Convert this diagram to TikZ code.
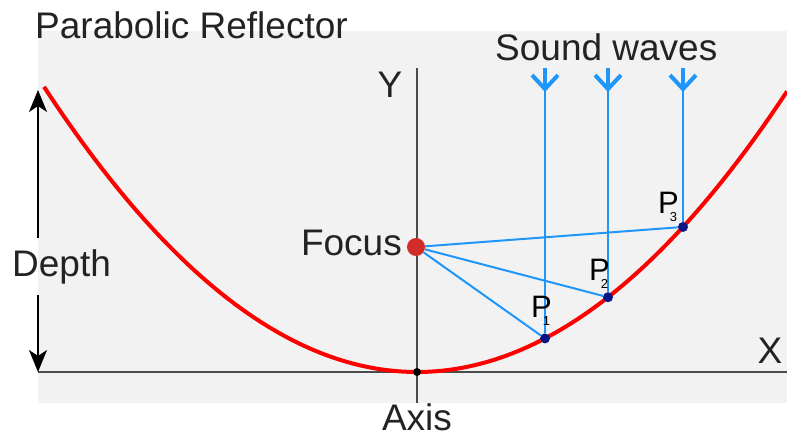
\documentclass[tikz,border=0pt]{standalone}
\usepackage{fontspec}
\setmainfont{Liberation Sans}
\usetikzlibrary{arrows.meta,decorations.markings,calc}

\definecolor{wavecol}{RGB}{30,150,250}
\definecolor{dotcol}{RGB}{10,20,130}
\definecolor{focuscol}{RGB}{210,45,40}
\definecolor{axiscol}{RGB}{75,75,75}
\definecolor{txtcol}{RGB}{35,35,35}
\definecolor{bgcol}{RGB}{242,242,242}

% point label with the small index tucked under the P
\newcommand{\Plab}[1]{P\kern-9pt\raisebox{-8pt}{\fontsize{13}{13}\selectfont #1}}

\begin{document}
\begin{tikzpicture}[x=1pt,y=-1pt,
  txt/.style={text=txtcol,font=\fontsize{37}{40}\selectfont,inner sep=0pt},
  plab/.style={text=black,font=\fontsize{31}{34}\selectfont,inner sep=0pt,anchor=base west},
  ptdot/.style={circle,fill=dotcol,minimum size=10pt,inner sep=0pt},
  ray/.style={wavecol,line width=2pt},
  incoming/.style={wavecol,line width=2.2pt},
  barb/.style={wavecol,line width=4pt,-{Straight Barb[length=14pt,width=26pt]}},
  axisline/.style={axiscol,line width=2pt},
  deptharrow/.style={black,line width=2pt,-{Stealth[length=22pt,width=18pt,inset=6pt]}}]

  \useasboundingbox (0,0) rectangle (787,436);

  % -- BACKGROUND & AXES ---------------------------------------------
  \fill[bgcol] (38,31) rectangle (787,403);
  \coordinate (xl) at (38,372);  \coordinate (xr) at (787,372);
  \coordinate (yt) at (417,68);  \coordinate (yb) at (417,403);
  \draw[axisline] (xl) -- (xr);
  \draw[axisline] (yt) -- (yb);

  % -- REFLECTOR -----------------------------------------------------
  \draw[red,line width=4pt] plot[domain=44:787,samples=90] (\x,{372-20.5*((\x-417)/100)^2});

  \node[circle,fill=black,minimum size=8pt,inner sep=0pt] (vertex) at (417,372) {};
  \node[circle,fill=focuscol,minimum size=18pt,inner sep=0pt] (focus) at (416,247) {};

  \node[ptdot] (p1) at (545,{372-20.5*1.28^2}) {};
  \node[ptdot] (p2) at (608,{372-20.5*1.91^2}) {};
  \node[ptdot] (p3) at (683,{372-20.5*2.66^2}) {};

  % -- SOUND WAVES ---------------------------------------------------
  \foreach \w/\px in {w1/545,w2/608,w3/683}{
    \coordinate (\w) at (\px,68);
    \coordinate (\w tip) at (\px,92);
    \draw[barb] (\w) -- (\w tip);
  }
  \draw[incoming] (w1) -- (p1);
  \draw[incoming] (w2) -- (p2);
  \draw[incoming] (w3) -- (p3);

  \draw[ray] (focus) -- (p1);
  \draw[ray] (focus) -- (p2);
  \draw[ray] (focus) -- (p3);

  % -- DEPTH ---------------------------------------------------------
  \coordinate (dtop) at (38,90);
  \coordinate (dbot) at (38,372);
  \node[txt,anchor=base west,inner ysep=11pt] (depth) at (12,276) {Depth};
  \draw[deptharrow] (depth.north -| dtop) -- (dtop);
  \draw[deptharrow] (depth.south -| dbot) -- (dbot);

  % -- LABELS --------------------------------------------------------
  \node[txt,anchor=base west] (title) at (35,39) {Parabolic Reflector};
  \node[txt,anchor=base west] (waves) at (495,60) {Sound waves};
  \node[txt,anchor=base] (ylab) at (390,97) {Y};
  \node[txt,anchor=base] (xlab) at (770,363) {X};
  \node[txt,anchor=base east] (focuslab) at (402,255) {Focus};
  \node[txt,anchor=base] (axislab) at (417,430) {Axis};

  \node[plab] (lblP1) at (531,317) {\Plab{1}};
  \node[plab] (lblP2) at (589,280) {\Plab{2}};
  \node[plab] (lblP3) at (658,213) {\Plab{3}};

\end{tikzpicture}
\end{document}
